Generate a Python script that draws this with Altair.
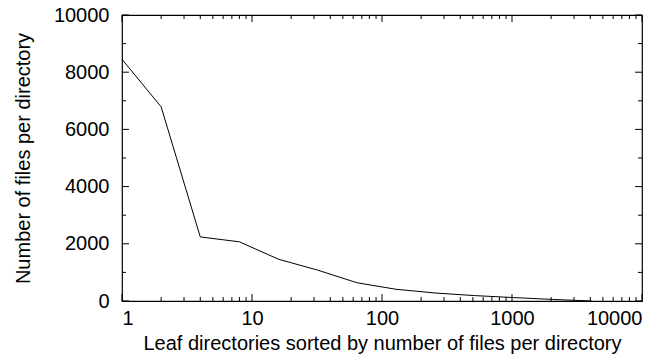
import altair as alt
import pandas as pd

# Files per leaf directory, directories sorted by file count (log-spaced ranks)
ranks = [1, 2, 4, 8, 16, 32, 64, 128, 256, 512, 1024, 2048, 4096]
files = [8450, 6790, 2240, 2070, 1460, 1080, 640, 410, 280, 190, 120, 55, 1]

# Tick positions (drawn inward on all four sides, gnuplot style)
x_major = [1, 10, 100, 1000, 10000]
x_minor = [m * 10 ** k for k in range(4) for m in range(2, 10)]
y_major = [0, 2000, 4000, 6000, 8000, 10000]
y_minor = [1000, 3000, 5000, 7000, 9000]

W, H = 520, 286
FONT = "Liberation Sans"

xscale = alt.Scale(type="log", domain=[1, 10000])
yscale = alt.Scale(domain=[0, 10000], nice=False)

data = pd.DataFrame({"rank": ranks, "files": files})

line = alt.Chart(data).mark_line(color="black", strokeWidth=1).encode(
    x=alt.X(
        "rank:Q",
        scale=xscale,
        axis=alt.Axis(
            values=x_major,
            format="d",
            ticks=False,
            domain=False,
            grid=False,
            labelPadding=7,
            titlePadding=5,
            title="Leaf directories sorted by number of files per directory",
        ),
    ),
    y=alt.Y(
        "files:Q",
        scale=yscale,
        axis=alt.Axis(
            values=y_major,
            format="d",
            ticks=False,
            domain=False,
            grid=False,
            labelPadding=13,
            titlePadding=20,
            title="Number of files per directory",
        ),
    ),
)


def xticks(vals, length):
    df = pd.DataFrame({"v": vals})
    base = alt.Chart(df).mark_rule(color="black", strokeWidth=1)
    bottom = base.encode(x=alt.X("v:Q", scale=xscale), y=alt.value(H), y2=alt.value(H - length))
    top = base.encode(x=alt.X("v:Q", scale=xscale), y=alt.value(0), y2=alt.value(length))
    return [bottom, top]


def yticks(vals, length):
    df = pd.DataFrame({"v": vals})
    base = alt.Chart(df).mark_rule(color="black", strokeWidth=1)
    left = base.encode(y=alt.Y("v:Q", scale=yscale), x=alt.value(0), x2=alt.value(length))
    right = base.encode(y=alt.Y("v:Q", scale=yscale), x=alt.value(W), x2=alt.value(W - length))
    return [left, right]


layers = [line] + xticks(x_major, 7) + xticks(x_minor, 4) + yticks(y_major, 7) + yticks(y_minor, 4)

chart = (
    alt.layer(*layers)
    .properties(
        width=W,
        height=H,
        autosize=alt.AutoSizeParams(type="none"),
        padding={"left": 122, "top": 15, "right": 29, "bottom": 57},
        background="white",
    )
    .configure_view(stroke="black", strokeWidth=1.2)
    .configure_axis(
        labelFont=FONT,
        titleFont=FONT,
        labelFontSize=20,
        titleFontSize=20,
        titleFontWeight="normal",
        labelColor="black",
        titleColor="black",
        titleLimit=1000,
        labelLimit=1000,
    )
)

chart.save("out.html", embed_options={"renderer": "svg", "actions": False})
